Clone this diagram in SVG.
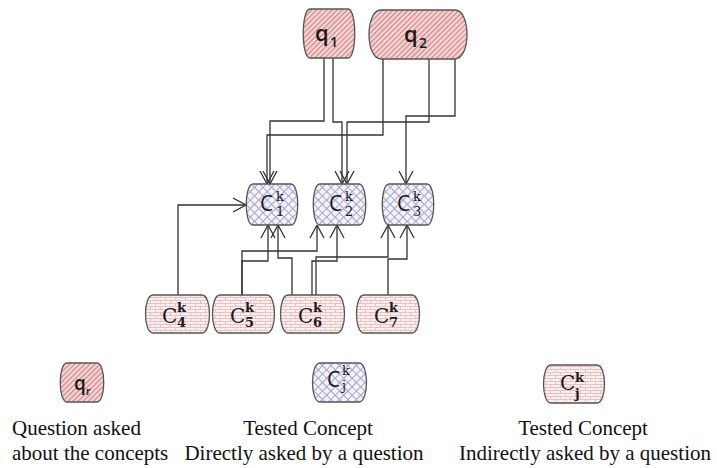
<svg xmlns="http://www.w3.org/2000/svg" width="717" height="468" viewBox="0 0 717 468">
<style>
.node{stroke:#555;stroke-width:1.3}
.q{fill:url(#hatch)}
.d{fill:url(#cross)}
.i{fill:url(#brick)}
.conn{fill:none;stroke:#333;stroke-width:1.3}
.qt{font-family:"Open Sans","Liberation Sans",sans-serif;font-size:22px;font-weight:600;fill:#1a1a1a}
.qs{font-family:"Open Sans","Liberation Sans",sans-serif;font-size:14px;font-weight:600;fill:#1a1a1a}
.ct{font-family:"Open Sans","Liberation Sans",sans-serif;font-size:21px;fill:#1a1a1a}
.cs{font-family:"DejaVu Serif","Liberation Serif",serif;font-size:13px;fill:#1a1a1a}
.bt{font-family:"DejaVu Serif","Liberation Serif",serif;font-size:20px;fill:#1a1a1a}
.bs{font-family:"DejaVu Serif","Liberation Serif",serif;font-size:13px;font-weight:bold;fill:#1a1a1a}
.lg{font-family:"Liberation Serif","Times New Roman",serif;font-size:21px;fill:#111}
</style>
<defs>
<pattern id="hatch" patternUnits="userSpaceOnUse" width="3.6" height="3.6" patternTransform="rotate(45)">
<rect width="3.6" height="3.6" fill="#f3d6d6"/>
<line x1="0.6" y1="0" x2="0.6" y2="3.6" stroke="#cf7e7e" stroke-width="1.1"/>
</pattern>
<pattern id="cross" patternUnits="userSpaceOnUse" width="6" height="6" patternTransform="rotate(45)">
<rect width="6" height="6" fill="#f4f3fa"/>
<line x1="0" y1="0.5" x2="6" y2="0.5" stroke="#a6a3cf" stroke-width="1"/>
<line x1="0.5" y1="0" x2="0.5" y2="6" stroke="#a6a3cf" stroke-width="1"/>
</pattern>
<pattern id="brick" patternUnits="userSpaceOnUse" width="10" height="6">
<rect width="10" height="6" fill="#fbefef"/>
<path d="M0,0.5H10M0,3.5H10M0.5,0.5V3.5M5.5,3.5V6.5" stroke="#e6bebe" stroke-width="0.9" fill="none"/>
</pattern>
<marker id="arr" viewBox="0 0 14 16" refX="13.5" refY="8" markerWidth="14" markerHeight="16" markerUnits="userSpaceOnUse" orient="auto">
<path d="M0.5,1 L13.5,8 L0.5,15" fill="none" stroke="#333" stroke-width="1.3"/>
</marker>
</defs>

<g id="connectors" class="conn">
<path d="M324,58 V121 H270 V184" marker-end="url(#arr)"/>
<path d="M333,58 V122 H342 V184" marker-end="url(#arr)"/>
<path d="M383,59 V135 H267 V184" marker-end="url(#arr)"/>
<path d="M429,59 V122 H347 V184" marker-end="url(#arr)"/>
<path d="M455,59 V116 H406 V184" marker-end="url(#arr)"/>
<path d="M178,295 V205 H246" marker-end="url(#arr)"/>
<path d="M242,295 V261 H268 V225" marker-end="url(#arr)"/>
<path d="M242,295 V251 H317 V225" marker-end="url(#arr)"/>
<path d="M292,295 V258 H278 V225" marker-end="url(#arr)"/>
<path d="M312,295 V261 H337 V225" marker-end="url(#arr)"/>
<path d="M316,295 V257 H388 V225" marker-end="url(#arr)"/>
<path d="M388,295 V259 H407 V225" marker-end="url(#arr)"/>
</g>

<g id="q1">
<path class="node q" d="M310,9 H348 C357,9 357,58 348,58 H310 C301,58 301,9 310,9 Z"/>
<text class="qt" x="315" y="41">q</text><text class="qs" x="330" y="47">1</text>
</g>
<g id="q2">
<path class="node q" d="M381,10 H455 C471,10 471,59 455,59 H381 C365,59 365,10 381,10 Z"/>
<text class="qt" x="404" y="42">q</text><text class="qs" x="419" y="48">2</text>
</g>

<g id="c1">
<path class="node d" d="M253,184 H291 C300,184 300,225 291,225 H253 C244,225 244,184 253,184 Z"/>
<text class="ct" x="260" y="211">C</text><text class="cs" x="276" y="201">k</text><text class="cs" x="276" y="216">1</text>
</g>
<g id="c2">
<path class="node d" d="M320,184 H359 C368,184 368,225 359,225 H320 C311,225 311,184 320,184 Z"/>
<text class="ct" x="329" y="211">C</text><text class="cs" x="345" y="201">k</text><text class="cs" x="345" y="216">2</text>
</g>
<g id="c3">
<path class="node d" d="M389,184 H427 C436,184 436,225 427,225 H389 C380,225 380,184 389,184 Z"/>
<text class="ct" x="397" y="211">C</text><text class="cs" x="413" y="201">k</text><text class="cs" x="413" y="216">3</text>
</g>

<g id="c4">
<path class="node i" d="M153,295 H202 C212,295 212,333 202,333 H153 C143,333 143,295 153,295 Z"/>
<text class="bt" x="162" y="323">C</text><text class="bs" x="177" y="312">k</text><text class="bs" x="177" y="327">4</text>
</g>
<g id="c5">
<path class="node i" d="M220,295 H267 C277,295 277,333 267,333 H220 C210,333 210,295 220,295 Z"/>
<text class="bt" x="230" y="323">C</text><text class="bs" x="245" y="312">k</text><text class="bs" x="245" y="327">5</text>
</g>
<g id="c6">
<path class="node i" d="M288,295 H337 C347,295 347,333 337,333 H288 C278,333 278,295 288,295 Z"/>
<text class="bt" x="298" y="323">C</text><text class="bs" x="313" y="312">k</text><text class="bs" x="313" y="327">6</text>
</g>
<g id="c7">
<path class="node i" d="M364,295 H412 C422,295 422,333 412,333 H364 C354,333 354,295 364,295 Z"/>
<text class="bt" x="374" y="323">C</text><text class="bs" x="389" y="312">k</text><text class="bs" x="389" y="327">7</text>
</g>

<g id="legend-q">
<path class="node q" d="M67,363 H97 C106,363 106,402 97,402 H67 C58,402 58,363 67,363 Z"/>
<text class="qt" x="74" y="390" style="font-size:19px">q</text><text class="qs" x="86" y="395" style="font-size:11px">r</text>
<text class="lg" x="12" y="435">Question asked</text>
<text class="lg" x="12" y="460">about the concepts</text>
</g>
<g id="legend-direct">
<path class="node d" d="M320,363 H359 C369,363 369,402 359,402 H320 C310,402 310,363 320,363 Z"/>
<text class="ct" x="327" y="387">C</text><text class="cs" x="342" y="375">k</text><text class="cs" x="342" y="390">j</text>
<text class="lg" x="308" y="435" text-anchor="middle">Tested Concept</text>
<text class="lg" x="304" y="460" text-anchor="middle">Directly asked by a question</text>
</g>
<g id="legend-indirect">
<path class="node i" d="M551,365 H597 C607,365 607,403 597,403 H551 C541,403 541,365 551,365 Z"/>
<text class="bt" x="560" y="390">C</text><text class="bs" x="575" y="382">k</text><text class="bs" x="575" y="398">j</text>
<text class="lg" x="583" y="435" text-anchor="middle">Tested Concept</text>
<text class="lg" x="585" y="460" text-anchor="middle">Indirectly asked by a question</text>
</g>
</svg>
